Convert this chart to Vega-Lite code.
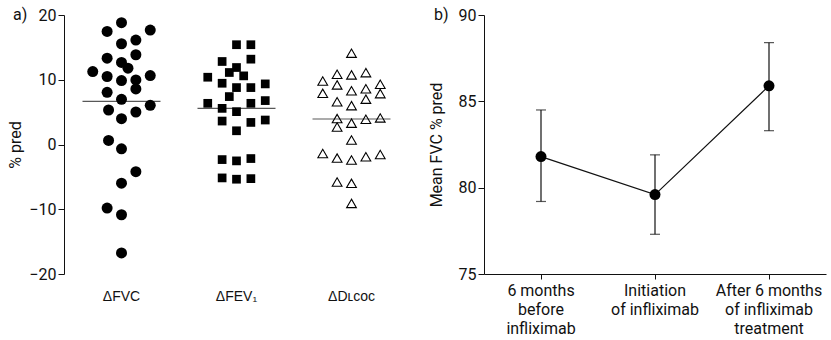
{
  "$schema": "https://vega.github.io/schema/vega-lite/v6.json",
  "background": "white",
  "padding": {"left": 7, "top": 7, "right": 5, "bottom": 0},
  "spacing": 19,
  "config": {
    "view": {"stroke": null},
    "axis": {
      "labelFont": "Roboto", "labelFontSize": 16, "labelColor": "#111",
      "titleFont": "Roboto", "titleFontSize": 16, "titleFontWeight": "normal", "titleColor": "#111",
      "domainColor": "#111", "tickColor": "#111", "grid": false
    },
    "title": {"font": "Roboto", "fontSize": 16, "fontWeight": "normal", "color": "#111"}
  },
  "datasets": {
    "pts": [
      {"m": "FVC", "v": 18.82, "slot": 0},
      {"m": "FVC", "v": 17.47, "slot": -1},
      {"m": "FVC", "v": 17.67, "slot": 2},
      {"m": "FVC", "v": 15.56, "slot": 0},
      {"m": "FVC", "v": 16.12, "slot": 1},
      {"m": "FVC", "v": 13.33, "slot": -1},
      {"m": "FVC", "v": 13.86, "slot": 1},
      {"m": "FVC", "v": 12.67, "slot": 0},
      {"m": "FVC", "v": 11.78, "slot": 0.45},
      {"m": "FVC", "v": 11.27, "slot": -2},
      {"m": "FVC", "v": 10.5, "slot": -1},
      {"m": "FVC", "v": 9.88, "slot": 0},
      {"m": "FVC", "v": 9.98, "slot": 1},
      {"m": "FVC", "v": 10.65, "slot": 2},
      {"m": "FVC", "v": 8.59, "slot": 1},
      {"m": "FVC", "v": 8.06, "slot": -1},
      {"m": "FVC", "v": 6.98, "slot": 0},
      {"m": "FVC", "v": 6.05, "slot": 2},
      {"m": "FVC", "v": 5.33, "slot": -0.9},
      {"m": "FVC", "v": 5.02, "slot": 1},
      {"m": "FVC", "v": 3.98, "slot": 0},
      {"m": "FVC", "v": 0.62, "slot": -0.9},
      {"m": "FVC", "v": -0.67, "slot": 0},
      {"m": "FVC", "v": -4.19, "slot": 1},
      {"m": "FVC", "v": -5.98, "slot": 0},
      {"m": "FVC", "v": -9.81, "slot": -1},
      {"m": "FVC", "v": -10.85, "slot": 0},
      {"m": "FVC", "v": -16.74, "slot": 0},
      {"m": "FEV1", "v": 15.41, "slot": 0},
      {"m": "FEV1", "v": 15.41, "slot": 1},
      {"m": "FEV1", "v": 13.18, "slot": 1},
      {"m": "FEV1", "v": 12.82, "slot": -1},
      {"m": "FEV1", "v": 11.89, "slot": 0},
      {"m": "FEV1", "v": 11.12, "slot": -0.5},
      {"m": "FEV1", "v": 10.6, "slot": 0.5},
      {"m": "FEV1", "v": 10.39, "slot": -2},
      {"m": "FEV1", "v": 9.46, "slot": -1},
      {"m": "FEV1", "v": 8.79, "slot": 0},
      {"m": "FEV1", "v": 8.79, "slot": 1},
      {"m": "FEV1", "v": 9.36, "slot": 2},
      {"m": "FEV1", "v": 7.4, "slot": -0.5},
      {"m": "FEV1", "v": 6.36, "slot": -2},
      {"m": "FEV1", "v": 6.36, "slot": 1},
      {"m": "FEV1", "v": 6.78, "slot": 2},
      {"m": "FEV1", "v": 5.58, "slot": -1},
      {"m": "FEV1", "v": 5.07, "slot": 0},
      {"m": "FEV1", "v": 3.62, "slot": -1},
      {"m": "FEV1", "v": 3.41, "slot": 1},
      {"m": "FEV1", "v": 3.78, "slot": 2},
      {"m": "FEV1", "v": 2.12, "slot": 0},
      {"m": "FEV1", "v": -2.33, "slot": -1},
      {"m": "FEV1", "v": -2.53, "slot": 0},
      {"m": "FEV1", "v": -2.17, "slot": 1},
      {"m": "FEV1", "v": -5.16, "slot": -1},
      {"m": "FEV1", "v": -5.36, "slot": 0},
      {"m": "FEV1", "v": -5.27, "slot": 1},
      {"m": "DLCO", "v": 14.1, "slot": 0},
      {"m": "DLCO", "v": 10.85, "slot": -1},
      {"m": "DLCO", "v": 10.75, "slot": 0},
      {"m": "DLCO", "v": 11.1, "slot": 1},
      {"m": "DLCO", "v": 9.8, "slot": -2},
      {"m": "DLCO", "v": 9.2, "slot": -1},
      {"m": "DLCO", "v": 9.3, "slot": 2},
      {"m": "DLCO", "v": 8.3, "slot": 0},
      {"m": "DLCO", "v": 8.6, "slot": 1},
      {"m": "DLCO", "v": 7.9, "slot": -2},
      {"m": "DLCO", "v": 7.86, "slot": 2},
      {"m": "DLCO", "v": 6.6, "slot": -1},
      {"m": "DLCO", "v": 7.0, "slot": 1},
      {"m": "DLCO", "v": 6.0, "slot": 0},
      {"m": "DLCO", "v": 4.0, "slot": -1},
      {"m": "DLCO", "v": 3.9, "slot": 1},
      {"m": "DLCO", "v": 4.1, "slot": 2},
      {"m": "DLCO", "v": 2.7, "slot": -1},
      {"m": "DLCO", "v": 3.3, "slot": 0},
      {"m": "DLCO", "v": 0.7, "slot": 0},
      {"m": "DLCO", "v": -1.4, "slot": -2},
      {"m": "DLCO", "v": -2.1, "slot": -1},
      {"m": "DLCO", "v": -2.4, "slot": 0},
      {"m": "DLCO", "v": -1.9, "slot": 1},
      {"m": "DLCO", "v": -1.55, "slot": 2},
      {"m": "DLCO", "v": -5.8, "slot": -1},
      {"m": "DLCO", "v": -6.0, "slot": 0},
      {"m": "DLCO", "v": -9.1, "slot": 0}
    ],
    "means": [
      {"m": "FVC", "mean": 6.67},
      {"m": "FEV1", "mean": 5.58},
      {"m": "DLCO", "mean": 3.94}
    ],
    "fvc": [
      {"time": "6 months|before|infliximab", "mean": 81.8, "lo": 79.2, "hi": 84.5},
      {"time": "Initiation|of infliximab", "mean": 79.6, "lo": 77.3, "hi": 81.9},
      {"time": "After 6 months|of infliximab|treatment", "mean": 85.9, "lo": 83.3, "hi": 88.4}
    ]
  },
  "hconcat": [
    {
      "width": 345,
      "height": 259,
      "title": {"text": "a)", "anchor": "start", "frame": "group", "orient": "top", "offset": -24, "dx": -51, "dy": 0, "baseline": "middle"},
      "layer": [
        {
          "data": {"name": "means"},
          "mark": {"type": "tick", "size": 78, "thickness": 1.2, "color": "#111"},
          "encoding": {
            "x": {
              "field": "m", "type": "nominal",
              "scale": {"domain": ["FVC", "FEV1", "DLCO"], "paddingInner": 0, "paddingOuter": 0},
              "axis": {
                "title": null, "domain": false, "ticks": false, "labelAngle": 0, "labelPadding": 15,
                "labelFont": "Liberation Sans", "labelFontSize": 14,
                "labelExpr": "datum.value == 'FVC' ? 'ΔFVC' : datum.value == 'FEV1' ? 'ΔFEV₁' : 'ΔDʟᴄᴏc'"
              }
            },
            "y": {
              "field": "mean", "type": "quantitative",
              "scale": {"domain": [-20, 20], "nice": false},
              "axis": {"title": "% pred", "values": [-20, -10, 0, 10, 20], "tickSize": 6, "labelPadding": 2, "titlePadding": 5}
            }
          }
        },
        {
          "mark": {"type": "rule", "color": "#111", "strokeWidth": 1.2},
          "encoding": {"y": {"datum": 0}}
        },
        {
          "data": {"name": "pts"},
          "transform": [{"filter": "datum.m == 'FVC'"}],
          "mark": {"type": "point", "shape": "circle", "filled": true, "size": 121, "color": "#000", "opacity": 1},
          "encoding": {
            "x": {"field": "m", "type": "nominal"},
            "xOffset": {"field": "slot", "type": "quantitative", "scale": {"domain": [-4, 4]}},
            "y": {"field": "v", "type": "quantitative"}
          }
        },
        {
          "data": {"name": "pts"},
          "transform": [{"filter": "datum.m == 'FEV1'"}],
          "mark": {"type": "point", "shape": "square", "filled": true, "size": 76, "color": "#000", "opacity": 1},
          "encoding": {
            "x": {"field": "m", "type": "nominal"},
            "xOffset": {"field": "slot", "type": "quantitative", "scale": {"domain": [-4, 4]}},
            "y": {"field": "v", "type": "quantitative"}
          }
        },
        {
          "data": {"name": "pts"},
          "transform": [{"filter": "datum.m == 'DLCO'"}],
          "mark": {"type": "point", "shape": "triangle-up", "filled": false, "size": 95, "color": "#000", "strokeWidth": 1.1, "opacity": 1},
          "encoding": {
            "x": {"field": "m", "type": "nominal"},
            "xOffset": {"field": "slot", "type": "quantitative", "scale": {"domain": [-4, 4]}},
            "y": {"field": "v", "type": "quantitative"}
          }
        }
      ]
    },
    {
      "width": 342,
      "height": 259,
      "data": {"name": "fvc"},
      "title": {"text": "b)", "anchor": "start", "frame": "group", "orient": "top", "offset": -24, "dx": -50, "dy": 0, "baseline": "middle"},
      "encoding": {
        "x": {
          "field": "time", "type": "nominal",
          "scale": {"domain": ["6 months|before|infliximab", "Initiation|of infliximab", "After 6 months|of infliximab|treatment"], "paddingInner": 0, "paddingOuter": 0},
          "axis": {"title": null, "labelAngle": 0, "labelExpr": "split(datum.value, '|')", "labelLineHeight": 19, "tickSize": 5, "labelPadding": 3}
        }
      },
      "layer": [
        {
          "mark": {"type": "rule", "color": "#111", "strokeWidth": 1.2},
          "encoding": {
            "y": {
              "field": "lo", "type": "quantitative",
              "scale": {"domain": [75, 90], "nice": false, "zero": false},
              "axis": {"title": "Mean FVC % pred", "values": [75, 80, 85, 90], "tickSize": 6, "labelPadding": 2, "titlePadding": 14}
            },
            "y2": {"field": "hi"}
          }
        },
        {
          "mark": {"type": "tick", "size": 10, "thickness": 1.2, "color": "#111"},
          "encoding": {"y": {"field": "lo", "type": "quantitative"}}
        },
        {
          "mark": {"type": "tick", "size": 10, "thickness": 1.2, "color": "#111"},
          "encoding": {"y": {"field": "hi", "type": "quantitative"}}
        },
        {
          "mark": {"type": "line", "color": "#111", "strokeWidth": 1.2},
          "encoding": {"y": {"field": "mean", "type": "quantitative"}}
        },
        {
          "mark": {"type": "point", "shape": "circle", "filled": true, "size": 121, "color": "#000", "opacity": 1},
          "encoding": {"y": {"field": "mean", "type": "quantitative"}}
        }
      ]
    }
  ]
}
